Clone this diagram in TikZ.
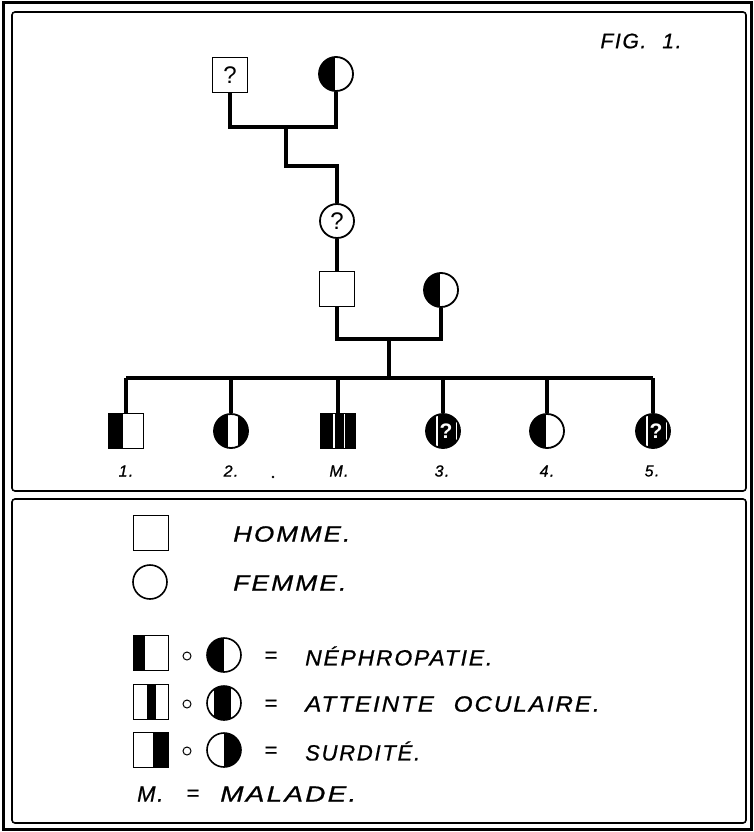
\documentclass[tikz,border=0pt]{standalone}
\usepackage{fontspec}
\setmainfont{Liberation Sans}
\newfontfamily\hand[LetterSpace=8, FakeBold=0.8]{Liberation Sans}
\usetikzlibrary{calc}
\newcommand\vbar[3][black]{\fill[#1] ($(path picture bounding box.south west)!#2!(path picture bounding box.south east)$) rectangle ($(path picture bounding box.north west)!#3!(path picture bounding box.north east)$);}
\begin{document}
\begin{tikzpicture}[x=1pt,y=-1pt,
  conn/.style={line width=3.6pt},
  sym/.style={draw, line width=1.8pt, inner sep=0pt, font=\fontsize{24}{24}\selectfont},
  male/.style={sym, rectangle, minimum size=35pt},
  female/.style={sym, circle, minimum size=34pt},
  lgsym/.style={draw, line width=1.6pt, inner sep=0pt},
  lgmale/.style={lgsym, rectangle, minimum size=35pt},
  lgfemale/.style={lgsym, circle, minimum size=34pt},
  vfill/.style 2 args={path picture={\vbar{#1}{#2}}},
  qmark/.style={text=white, font=\fontsize{21}{21}\selectfont\bfseries},
  hw/.style={font=\hand\itshape\fontsize{22}{22}\selectfont, inner sep=0pt, anchor=west},
  clab/.style={font=\hand\itshape\fontsize{16}{16}\selectfont, inner sep=0pt},
  ocirc/.style={draw, circle, line width=1pt, minimum size=8pt, inner sep=0pt}
]
\useasboundingbox (0,0) rectangle (754,832);
% frames
\draw[line width=3pt] (3,3) rectangle (751,829);
\draw[line width=1.6pt, rounded corners=3pt] (12,12) rectangle (746,491);
\draw[line width=1.6pt, rounded corners=3pt] (12,499) rectangle (746,823);

\node[font=\hand\itshape\fontsize{21}{21}\selectfont, inner sep=0pt] (fig) at (641,41) {FIG.\hspace{16pt}1.};

% generation I
\node[male] (gf) at (230,75) {?};
\node[female, vfill={0}{0.48}] (gm) at (336,74) {};
\coordinate (m1) at (286,127);
\draw[conn] (gf.south) |- (m1) -| (gm.south);
% generation II
\node[female] (q) at (337,221) {?};
\coordinate (k1) at (286,166);
\draw[conn] (m1) |- (k1) -| (q.north);
\node[male] (f) at (337,289) {};
\draw[conn] (q.south) -- (f.north);
\node[female, vfill={0}{0.48}] (w) at (441,290) {};
\coordinate (m2) at (389,339);
\draw[conn] (f.south) |- (m2) -| (w.south);
% generation III
\coordinate (s1) at (126,378);
\coordinate (s6) at (653,378);
\coordinate (sm) at (389,378);
\draw[conn] (m2) -- (sm);
\draw[conn] (s1) -- (s6);

\node[male, vfill={0}{0.4}] (c1) at (126,431) {};
\node[female, path picture={\vbar{0}{0.42}\vbar{0.70}{1}}] (c2) at (231,431) {};
\node[male, path picture={\vbar{0}{1}\vbar[white]{0.36}{0.40}\vbar[white]{0.67}{0.71}}] (cM) at (338,431) {};
\node[female, path picture={\vbar{0}{1}\vbar[white]{0.29}{0.34}\vbar[white]{0.87}{0.92}}] (c3) at (443,431) {};
\node[female, vfill={0}{0.48}] (c4) at (547,431) {};
\node[female, path picture={\vbar{0}{1}\vbar[white]{0.29}{0.34}\vbar[white]{0.87}{0.92}}] (c5) at (653,431) {};
\node[qmark] (q3) at (446,431) {?};
\node[qmark] (q5) at (656,431) {?};
\foreach \c in {c1,c2,cM,c3,c4,c5}{
  \draw[conn] (\c.north) -- (\c.north |- s1);
}
\node[clab] (l1) at (126,471) {1.};
\node[clab] (l2) at (231,471) {2.};
\node[clab] (lM) at (339,471) {M.};
\node[clab] (l3) at (442,471) {3.};
\node[clab] (l4) at (547,471) {4.};
\node[clab] (l5) at (652,471) {5.};
\fill (273,477) circle (1.3pt);

% legend
\node[lgmale] (h) at (151,533) {};
\node[hw, xscale=1.18] (ht) at (233,534) {HOMME.};
\node[lgfemale] (fe) at (150,582) {};
\node[hw, xscale=1.2] (ft) at (233,583) {FEMME.};

\node[lgmale, vfill={0}{0.34}] (n1) at (151,653) {};
\node[ocirc] (o1) at (187,656) {};
\node[lgfemale, vfill={0}{0.5}] (n2) at (224,655) {};
\node[hw] (e1) at (264,657) {=};
\node[hw, xscale=1.04] (t1) at (305,656) {NÉPHROPATIE.};

\node[lgmale, vfill={0.38}{0.64}] (a1) at (151,702) {};
\node[ocirc] (o2) at (187,704) {};
\node[lgfemale, vfill={0.22}{0.72}] (a2) at (224,703) {};
\node[hw] (e2) at (264,705) {=};
\node[hw, xscale=1.1] (t2) at (305,704) {ATTEINTE\hspace{18pt}OCULAIRE.};

\node[lgmale, vfill={0.56}{1}] (s1l) at (151,750) {};
\node[ocirc] (o3) at (187,751) {};
\node[lgfemale, vfill={0.5}{1}] (s2l) at (224,750) {};
\node[hw] (e3) at (264,752) {=};
\node[hw] (t3) at (305,751) {SURDITÉ.};

\node[hw] (mm) at (137,794) {M.};
\node[hw] (me) at (186,795) {=};
\node[hw, xscale=1.27] (mt) at (220,794) {MALADE.};
\end{tikzpicture}
\end{document}
